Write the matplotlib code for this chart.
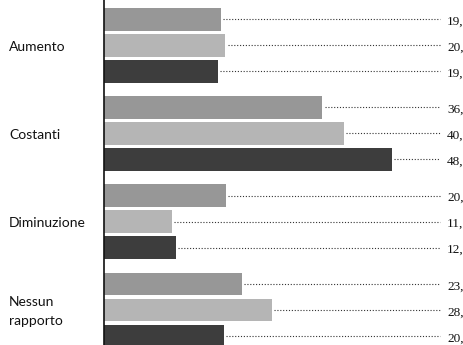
import matplotlib.pyplot as plt

categories = ['Aumento', 'Costanti', 'Diminuzione', 'Nessun\nrapporto']
serie_a = [19.5, 36.4, 20.3, 23.0]
serie_b = [20.2, 40.0, 11.3, 28.0]
serie_c = [19.0, 48.0, 12.0, 20.0]
series = [serie_a, serie_b, serie_c]
bar_colors = ['#979797', '#b5b5b5', '#3d3d3d']

fig = plt.figure(figsize=(4.64, 3.45), dpi=100)
ax = fig.add_axes([0, 0, 1, 1])
px = 6.0  # pixels per percentage point
ax.set_xlim(-104 / px, 360 / px)
ax.set_ylim(345, 0)
ax.axis('off')

group_top = 8
group_step = 88.2
slot = 26
bar_h = 22.5
leader_end = 56.0
label_x = 57.2
line_gap = 19

for g, cat in enumerate(categories):
    top = group_top + g * group_step
    for i, vals in enumerate(series):
        yc = top + i * slot + bar_h / 2
        v = vals[g]
        ax.barh(yc, v, height=bar_h, left=0, color=bar_colors[i], edgecolor='none')
        ax.plot([v + 0.4, leader_end], [yc, yc], color='#333333', lw=0.8,
                linestyle=(0, (1, 1.6)))
        ax.text(label_x, yc + 5.5, f'{v:.1f}'.replace('.', ','), fontsize=9.5,
                family='Liberation Serif', va='baseline', ha='left', color='#111111')
    lines = cat.split('\n')
    first = top + 43 - (len(lines) - 1) * line_gap / 2
    for k, line in enumerate(lines):
        ax.text(-95 / px, first + k * line_gap, line, fontsize=10, family='Lato',
                va='baseline', ha='left', color='#111111')

ax.plot([0, 0], [0, 345], color='#111111', lw=1.2, solid_capstyle='butt')

fig.savefig('out.png', dpi=100)
